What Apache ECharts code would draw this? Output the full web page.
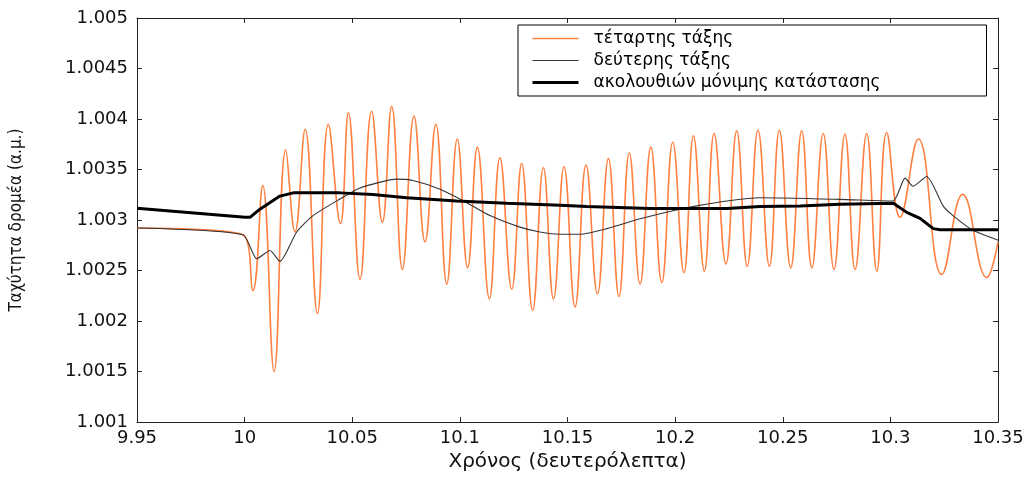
<!DOCTYPE html>
<html>
<head>
<meta charset="utf-8">
<script src="https://cdn.jsdelivr.net/npm/echarts@6/dist/echarts.min.js"></script>
<style>html,body{margin:0;padding:0;background:#fff}#c{width:1030px;height:477px}</style>
</head>
<body>
<div id="c"></div>
<script>
// ---- data ----
const seriesNames = ['τέταρτης τάξης', 'δεύτερης τάξης', 'ακολουθιών μόνιμης κατάστασης'];

const fourthT = [9.95, 9.9992, 10.0038, 10.0084, 10.0137, 10.0191, 10.0234, 10.0281, 10.0338, 10.0389,
  10.0445, 10.0482, 10.0536, 10.0590, 10.0640, 10.0683, 10.0733, 10.0787, 10.0838, 10.0888,
  10.0939, 10.0988, 10.1036, 10.1081, 10.1137, 10.1186, 10.1241, 10.1287, 10.1338, 10.1388,
  10.1435, 10.1484, 10.1535, 10.1586, 10.1639, 10.1690, 10.1739, 10.1787, 10.1837, 10.1887,
  10.1938, 10.1989, 10.2041, 10.2085, 10.2136, 10.2181, 10.2236, 10.2286, 10.2335, 10.2385,
  10.2438, 10.2484, 10.2537, 10.2588, 10.2635, 10.2688, 10.2738, 10.2789, 10.2836, 10.2890,
  10.2937, 10.2983, 10.3045, 10.3130, 10.3239, 10.3336, 10.3448, 10.35];
const fourthV = [1.002921, 1.002855, 1.002301, 1.003341, 1.001501, 1.003695, 1.002882, 1.003899, 1.002075, 1.003947,
  1.002966, 1.004061, 1.002414, 1.004077, 1.002979, 1.004125, 1.002511, 1.004029, 1.002785, 1.003947,
  1.002366, 1.003802, 1.002527, 1.003722, 1.002220, 1.003615, 1.002317, 1.003560, 1.002107, 1.003518,
  1.002220, 1.003528, 1.002140, 1.003544, 1.002269, 1.003608, 1.002243, 1.003663, 1.002366, 1.003722,
  1.002382, 1.003770, 1.002479, 1.003835, 1.002494, 1.003857, 1.002566, 1.003883, 1.002543, 1.003889,
  1.002543, 1.003889, 1.002527, 1.003883, 1.002527, 1.003857, 1.002511, 1.003850, 1.002511, 1.003857,
  1.002494, 1.003867, 1.003027, 1.003802, 1.002462, 1.003254, 1.002431, 1.002782];

const secondT = [9.95, 9.9992, 10.0056, 10.0118, 10.0164, 10.0242, 10.0318, 10.0443, 10.0536, 10.0707,
  10.0782, 10.0908, 10.1032, 10.1140, 10.1279, 10.1372, 10.1465, 10.1558, 10.1682, 10.1837,
  10.1990, 10.2100, 10.2240, 10.2394, 10.2766, 10.3012, 10.3068, 10.3105, 10.3169, 10.3245,
  10.3291, 10.3384, 10.35];
const secondV = [1.002921, 1.002855, 1.002617, 1.002698, 1.002591, 1.002882, 1.003044, 1.003208, 1.003318, 1.003405,
  1.003392, 1.003305, 1.003172, 1.003044, 1.002930, 1.002882, 1.002860, 1.002860, 1.002915, 1.003012,
  1.003092, 1.003140, 1.003189, 1.003221, 1.003205, 1.003189, 1.003415, 1.003334, 1.003431, 1.003140,
  1.003044, 1.002898, 1.002801];

const steadyT = [9.95, 10.0002, 10.0025, 10.0071, 10.0164, 10.0226, 10.0443, 10.0596, 10.0753, 10.0985,
  10.1218, 10.1465, 10.1589, 10.1883, 10.2240, 10.2394, 10.2580, 10.2766, 10.3014, 10.3076,
  10.3138, 10.3199, 10.3231, 10.35];
const steadyV = [1.003116, 1.003027, 1.003027, 1.003108, 1.003237, 1.003269, 1.003269, 1.003254, 1.003221, 1.003189,
  1.003167, 1.003147, 1.003134, 1.003114, 1.003114, 1.003134, 1.003140, 1.003157, 1.003167, 1.003076,
  1.003017, 1.002915, 1.002905, 1.002905];

const xTickLabels = ['9.95', '10', '10.05', '10.1', '10.15', '10.2', '10.25', '10.3', '10.35'];
const yTickLabels = ['1.001', '1.0015', '1.002', '1.0025', '1.003', '1.0035', '1.004', '1.0045', '1.005'];

// ---- chart ----
const zip = (a, b) => a.map((t, i) => [t, b[i]]);
const X_MIN = 9.95, X_MAX = 10.35, X_STEP = 0.05;
const Y_MIN = 1.001, Y_MAX = 1.005, Y_STEP = 0.0005;

const xLabel = v => {
  const i = Math.round((v - X_MIN) / X_STEP);
  return xTickLabels[i] !== undefined ? xTickLabels[i] : '';
};
const yLabel = v => {
  const i = Math.round((v - Y_MIN) / Y_STEP);
  return yTickLabels[i] !== undefined ? yTickLabels[i] : '';
};

const lineColors = ['#ff8040', '#333', '#000'];
const lineWidths = [1.6, 1.1, 3];

const axisLine = { show: true, onZero: false, lineStyle: { color: '#222', width: 1 } };
const axisTick = { show: true, inside: true, length: 5, lineStyle: { color: '#222', width: 1 } };
const tickFont = { fontFamily: 'DejaVu Sans', fontSize: 18, color: '#111' };

const chart = echarts.init(document.getElementById('c'), null, { renderer: 'canvas' });
chart.setOption({
  animation: false,
  backgroundColor: '#fff',
  grid: { left: 137, right: 32, top: 18, bottom: 46, containLabel: false },
  legend: {
    orient: 'vertical', left: 518, top: 25,
    padding: [5, 8, 5, 13],
    itemWidth: 46, itemHeight: 14, itemGap: 5,
    borderColor: '#000', borderWidth: 1, backgroundColor: '#fff',
    itemStyle: { opacity: 0, borderWidth: 0 },
    textStyle: { fontFamily: 'DejaVu Sans', fontSize: 17, color: '#000', width: 385, lineHeight: 14, padding: [0, 0, 0, 10] },
    data: seriesNames.map((n, i) => ({ name: n, lineStyle: { color: lineColors[i], width: lineWidths[i] } }))
  },
  xAxis: [
    {
      type: 'value', min: X_MIN, max: X_MAX, interval: X_STEP, position: 'bottom',
      axisLine, axisTick, splitLine: { show: false },
      axisLabel: Object.assign({ margin: 7, formatter: xLabel }, tickFont),
      name: 'Χρόνος (δευτερόλεπτα)', nameLocation: 'middle', nameGap: 28,
      nameTextStyle: { fontFamily: 'DejaVu Sans', fontSize: 20, color: '#111' }
    },
    {
      type: 'value', min: X_MIN, max: X_MAX, interval: X_STEP, position: 'top',
      axisLine, axisTick, splitLine: { show: false }, axisLabel: { show: false }
    }
  ],
  yAxis: [
    {
      type: 'value', min: Y_MIN, max: Y_MAX, interval: Y_STEP, position: 'left',
      axisLine, axisTick, splitLine: { show: false },
      axisLabel: Object.assign({ margin: 9, formatter: yLabel }, tickFont),
      name: 'Ταχύτητα δρομέα (α.μ.)', nameLocation: 'middle', nameGap: 112, nameRotate: 90,
      nameTextStyle: { fontFamily: 'DejaVu Sans Condensed, Liberation Sans Narrow, sans-serif', fontSize: 17, color: '#111' }
    },
    {
      type: 'value', min: Y_MIN, max: Y_MAX, interval: Y_STEP, position: 'right',
      axisLine, axisTick, splitLine: { show: false }, axisLabel: { show: false }
    }
  ],
  series: [
    {
      name: seriesNames[0], type: 'line', data: zip(fourthT, fourthV),
      xAxisIndex: 0, yAxisIndex: 0, symbol: 'none', smooth: 0.45,
      lineStyle: { color: lineColors[0], width: lineWidths[0] }, itemStyle: { color: lineColors[0] }
    },
    {
      name: seriesNames[1], type: 'line', data: zip(secondT, secondV),
      xAxisIndex: 0, yAxisIndex: 0, symbol: 'none', smooth: 0.2,
      lineStyle: { color: lineColors[1], width: lineWidths[1] }, itemStyle: { color: lineColors[1] }
    },
    {
      name: seriesNames[2], type: 'line', data: zip(steadyT, steadyV),
      xAxisIndex: 0, yAxisIndex: 0, symbol: 'none', smooth: false,
      lineStyle: { color: lineColors[2], width: lineWidths[2] }, itemStyle: { color: lineColors[2] }
    }
  ]
});
</script>
</body>
</html>
